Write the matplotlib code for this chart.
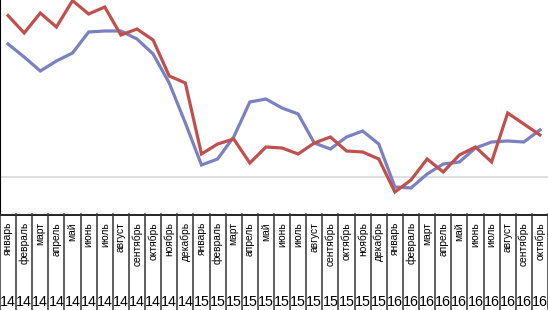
import matplotlib
matplotlib.use('Agg')
import matplotlib.pyplot as plt

# данные: месяцы января 2014 - октября 2016
months = ['январь', 'февраль', 'март', 'апрель', 'май', 'июнь', 'июль', 'август',
          'сентябрь', 'октябрь', 'ноябрь', 'декабрь'] * 2 + \
         ['январь', 'февраль', 'март', 'апрель', 'май', 'июнь', 'июль', 'август',
          'сентябрь', 'октябрь']
years = ['14'] * 12 + ['15'] * 12 + ['16'] * 10

red_values = [8.07, 7.20, 8.20, 7.50, 8.82, 8.15, 8.50, 7.10, 7.40, 6.85, 5.05, 4.70,
              1.15, 1.65, 1.90, 0.70, 1.50, 1.45, 1.15, 1.70, 2.00, 1.30, 1.25, 0.90,
              -0.75, -0.15, 0.90, 0.25, 1.10, 1.50, 0.75, 3.20, 2.65, 2.10]
blue_values = [6.65, 6.00, 5.30, 5.80, 6.20, 7.25, 7.30, 7.30, 6.90, 6.15, 4.70, 2.70,
               0.60, 0.90, 2.00, 3.75, 3.90, 3.45, 3.15, 1.70, 1.40, 2.00, 2.30, 1.65,
               -0.50, -0.55, 0.15, 0.65, 0.75, 1.45, 1.75, 1.80, 1.75, 2.35]

plt.rcParams['font.family'] = ['Liberation Sans', 'DejaVu Sans']

W, H = 548, 310
table_top = 214
fig = plt.figure(figsize=(W / 100, H / 100), dpi=100)

# область графика
ax = fig.add_axes([0, (H - table_top) / H, 1, table_top / H])
x = list(range(len(months)))
ax.axhline(0, color='#D9D9D9', lw=1.2, zorder=1)
ax.plot(x, blue_values, color='#7A80C0', lw=2.3, zorder=3, solid_joinstyle='miter')
ax.plot(x, red_values, color='#C0504D', lw=2.3, zorder=4, solid_joinstyle='miter')
ax.set_xlim(-0.5, len(months) - 0.5)
ax.set_ylim(-1.85, 8.85)
for s in ['top', 'right', 'bottom']:
    ax.spines[s].set_visible(False)
ax.spines['left'].set_color('black')
ax.spines['left'].set_linewidth(1.5)
ax.set_xticks([])
ax.set_yticks([])

# таблица подписей (координаты по y - пиксели сверху)
tab = fig.add_axes([0, 0, 1, (H - table_top) / H])
tab.set_xlim(-0.5, len(months) - 0.5)
tab.set_ylim(H, table_top)
tab.axis('off')
tab.plot([-0.5, len(months) - 0.5], [table_top + 0.5, table_top + 0.5],
         color='black', lw=1.2, clip_on=False)
for i in range(len(months) + 1):
    xi = i - 0.5
    if i == 0:
        xi = -0.47
    tab.plot([xi, xi], [table_top, H], color='#333333', lw=1.1, clip_on=False)
for i, (m, yv) in enumerate(zip(months, years)):
    tab.text(i, 222, m, rotation=90, ha='center', va='top', fontsize=7.4, color='black')
    tab.text(i, 302, yv, ha='center', va='center', fontsize=10.3, color='black')

fig.savefig('out.png', dpi=100)
